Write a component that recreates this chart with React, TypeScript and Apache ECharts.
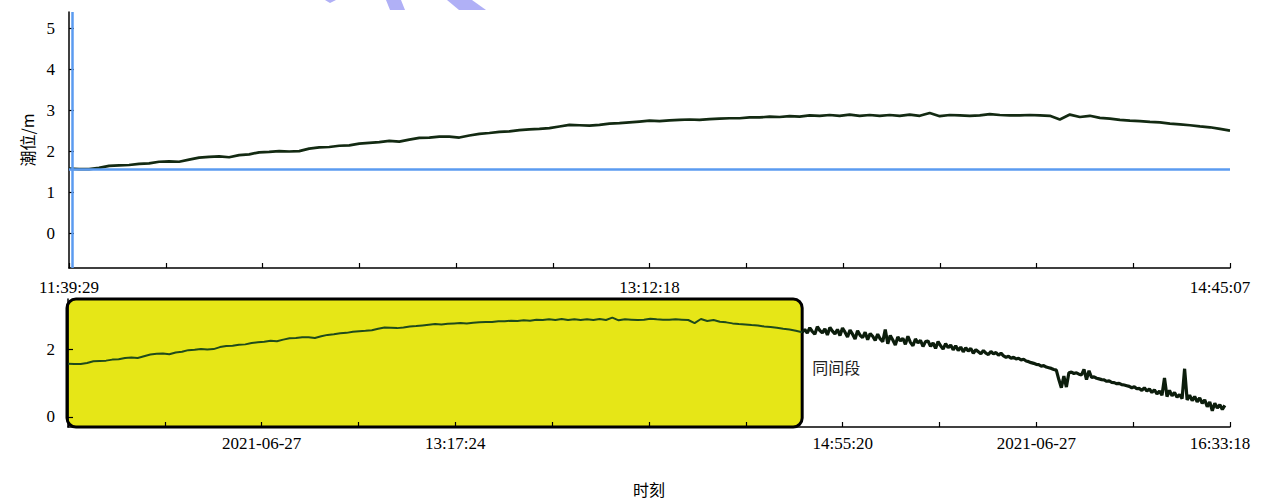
import React, { useEffect, useRef } from "react";
import * as echarts from "echarts";

// ---- data ----
const topTickLabels = ["11:39:29", "", "", "", "", "", "13:12:18", "", "", "", "", "", "14:45:07"];
const bottomTickLabels = ["", "", "2021-06-27", "", "13:17:24", "", "", "", "14:55:20", "", "2021-06-27", "", "16:33:18"];
const topYTicks = [0, 1, 2, 3, 4, 5];
const bottomYTicks = [0, 2];

const topStart = "11:39:29";
const topEnd = "14:45:07";
const bottomStart = "11:39:28";
const bottomEnd = "16:33:18";
const laterEnd = "16:32:00";

// tide level (m), evenly spaced in time from topStart to topEnd
const topLevel = [
  1.57, 1.56, 1.56, 1.59, 1.64, 1.65, 1.66, 1.69, 1.70, 1.74,
  1.75, 1.74, 1.79, 1.84, 1.86, 1.87, 1.85, 1.90, 1.92, 1.97,
  1.98, 2.00, 1.99, 2.00, 2.06, 2.09, 2.10, 2.13, 2.14, 2.18,
  2.20, 2.22, 2.25, 2.23, 2.28, 2.32, 2.33, 2.35, 2.35, 2.33,
  2.38, 2.42, 2.44, 2.47, 2.48, 2.51, 2.53, 2.54, 2.56, 2.60,
  2.64, 2.63, 2.62, 2.64, 2.67, 2.68, 2.70, 2.72, 2.74, 2.73,
  2.75, 2.76, 2.77, 2.76, 2.78, 2.79, 2.80, 2.80, 2.82, 2.82,
  2.84, 2.83, 2.85, 2.84, 2.87, 2.86, 2.88, 2.86, 2.89, 2.86,
  2.88, 2.86, 2.88, 2.86, 2.89, 2.86, 2.93, 2.85, 2.88, 2.87,
  2.86, 2.87, 2.90, 2.88, 2.87, 2.87, 2.88, 2.87, 2.86, 2.77,
  2.89, 2.83, 2.86, 2.81, 2.79, 2.76, 2.74, 2.73, 2.71, 2.70,
  2.67, 2.65, 2.63, 2.60, 2.58, 2.54, 2.50,
];

// tide level (m) after topEnd, evenly spaced in time up to laterEnd
const laterLevel = [
  2.50, 2.58, 2.47, 2.63, 2.52, 2.44, 2.66, 2.55, 2.48, 2.60,
  2.42, 2.64, 2.53, 2.45, 2.58, 2.40, 2.62, 2.50, 2.36, 2.56,
  2.44, 2.30, 2.54, 2.41, 2.34, 2.50, 2.28, 2.46, 2.38, 2.26,
  2.44, 2.30, 2.22, 2.58, 2.16, 2.40, 2.27, 2.12, 2.36, 2.24,
  2.32, 2.14, 2.38, 2.20, 2.10, 2.30, 2.18, 2.26, 2.08, 2.22,
  2.24, 2.08, 2.18, 2.02, 2.22, 2.10, 2.00, 2.16, 2.04, 2.12,
  1.98, 2.10, 1.96, 2.06, 1.92, 2.04, 1.94, 2.02, 1.88, 1.98,
  1.92, 1.86, 1.96, 1.88, 1.84, 1.93, 1.86, 1.90, 1.82, 1.88,
  1.80, 1.76, 1.79, 1.73, 1.76, 1.71, 1.73, 1.68, 1.70, 1.65,
  1.63, 1.60, 1.58, 1.55, 1.54, 1.50, 1.51, 1.47, 1.45, 1.43,
  1.40, 1.38, 1.10, 0.86, 1.20, 0.88, 1.30, 1.32, 1.28, 1.30,
  1.26, 1.24, 1.40, 1.10, 1.36, 1.16, 1.18, 1.14, 1.12, 1.10,
  1.09, 1.05, 1.06, 1.02, 1.01, 0.98, 0.99, 0.95, 0.94, 0.92,
  0.90, 0.86, 0.89, 0.83, 0.84, 0.78, 0.86, 0.76, 0.82, 0.72,
  0.80, 0.68, 0.76, 0.64, 1.15, 0.60, 0.78, 0.62, 0.72, 0.58,
  0.66, 0.54, 1.42, 0.50, 0.64, 0.48, 0.60, 0.44, 0.56, 0.40,
  0.50, 0.30, 0.44, 0.18, 0.40, 0.26, 0.36, 0.22, 0.34,
];

const datumLevel = 1.55;
const topYRange = [-0.85, 5.39];
const bottomYRange = [-0.3, 3.48];
const noteText = "同间段";
const noteLevel = 1.47;

// ---- helpers ----
const toSec = (s: string) => {
  const [h, m, x] = s.split(":").map(Number);
  return h * 3600 + m * 60 + x;
};

const SERIF = "Liberation Serif, Times New Roman, serif";
const CJK = "Noto Sans CJK SC, sans-serif";

export default function App() {
  const ref = useRef<HTMLDivElement>(null);

  useEffect(() => {
    if (!ref.current) return;
    const chart = echarts.init(ref.current, undefined, { renderer: "svg" });

    const topSpan = toSec(topEnd) - toSec(topStart);
    const topUnit = topSpan / 12;
    const botSpan = toSec(bottomEnd) - toSec(bottomStart);
    const botUnit = botSpan / 12;
    const offset = toSec(topStart) - toSec(bottomStart);

    const topData = topLevel.map((v, i) => [((i / (topLevel.length - 1)) * topSpan) / topUnit, v]);
    const earlyData = topLevel.map((v, i) => [((i / (topLevel.length - 1)) * topSpan + offset) / botUnit, v]);
    const lStart = toSec(topEnd) - toSec(bottomStart) + 1;
    const lEnd = toSec(laterEnd) - toSec(bottomStart);
    const laterData = laterLevel.map((v, j) => [(lStart + (j / (laterLevel.length - 1)) * (lEnd - lStart)) / botUnit, v]);
    const boxEndUnit = (toSec(topEnd) - toSec(bottomStart)) / botUnit;

    const mkLabel = (labels: string[]) => ({
      fontFamily: SERIF,
      fontSize: 17,
      color: "#000",
      showMinLabel: true,
      showMaxLabel: true,
      formatter: (v: number) => {
        const i = Math.round(v);
        const t = labels[i] || "";
        if (!t) return "";
        return i === 12 ? "{r|" + t + "}" : t;
      },
      rich: { r: { fontFamily: SERIF, fontSize: 17, color: "#000", padding: [0, 20, 0, 0] } },
    });

    const xBase = {
      type: "value" as const,
      min: 0,
      max: 12,
      interval: 1,
      splitLine: { show: false },
      axisLine: { show: true, onZero: false, lineStyle: { color: "#000", width: 1.5 } },
      axisTick: { show: true, inside: true, length: 5, lineStyle: { color: "#000", width: 1.2 } },
    };

    const yBase = {
      type: "value" as const,
      splitLine: { show: false },
      axisLine: { show: true, onZero: false, lineStyle: { color: "#000", width: 1.5 } },
      axisTick: { show: true, inside: true, length: 5, lineStyle: { color: "#000", width: 1.2 } },
    };

    chart.setOption({
      animation: false,
      backgroundColor: "#fff",
      grid: [
        { left: 69, top: 12, width: 1161, height: 256 },
        { left: 68, top: 299, width: 1162, height: 128 },
      ],
      xAxis: [
        { ...xBase, gridIndex: 0, axisLabel: { ...mkLabel(topTickLabels), margin: 11 } },
        {
          ...xBase,
          gridIndex: 1,
          axisLabel: { ...mkLabel(bottomTickLabels), margin: 8 },
          name: "时刻",
          nameLocation: "middle",
          nameGap: 54,
          nameTextStyle: { fontFamily: CJK, fontSize: 16, color: "#000" },
        },
      ],
      yAxis: [
        {
          ...yBase,
          gridIndex: 0,
          min: topYRange[0],
          max: topYRange[1],
          axisLabel: { customValues: topYTicks, fontFamily: SERIF, fontSize: 17, color: "#000", margin: 14 },
          axisTick: { ...yBase.axisTick, customValues: topYTicks },
          name: "潮位/m",
          nameLocation: "middle",
          nameGap: 34,
          nameTextStyle: { fontFamily: CJK, fontSize: 16, color: "#000" },
        },
        {
          ...yBase,
          gridIndex: 1,
          min: bottomYRange[0],
          max: bottomYRange[1],
          axisLabel: { customValues: bottomYTicks, fontFamily: SERIF, fontSize: 17, color: "#000", margin: 13 },
          axisTick: { ...yBase.axisTick, customValues: bottomYTicks },
        },
      ],
      series: [
        {
          type: "line",
          xAxisIndex: 0,
          yAxisIndex: 0,
          data: topData,
          showSymbol: false,
          lineStyle: { color: "#132a12", width: 2.7 },
          markLine: {
            silent: true,
            symbol: "none",
            label: { show: false },
            lineStyle: { color: "#5b9bf0", width: 2.5, type: "solid" },
            data: [{ yAxis: datumLevel }, { xAxis: 0.03 }],
          },
          z: 3,
        },
        {
          type: "line",
          xAxisIndex: 1,
          yAxisIndex: 1,
          data: earlyData,
          showSymbol: false,
          lineStyle: { color: "#1f4a1c", width: 2 },
          z: 3,
        },
        {
          type: "line",
          xAxisIndex: 1,
          yAxisIndex: 1,
          data: laterData,
          showSymbol: false,
          lineStyle: { color: "#0c1d0c", width: 3.2 },
          z: 3,
        },
      ],
    });

    const p0 = chart.convertToPixel({ gridIndex: 1 }, [0, bottomYRange[1]]) as number[];
    const p1 = chart.convertToPixel({ gridIndex: 1 }, [boxEndUnit, bottomYRange[0]]) as number[];
    const pn = chart.convertToPixel({ gridIndex: 1 }, [boxEndUnit, noteLevel]) as number[];

    chart.setOption({
      graphic: [
        {
          type: "rect",
          z: -1,
          shape: { x: p0[0] - 1, y: p0[1], width: p1[0] - p0[0] + 1, height: p1[1] - p0[1], r: 9 },
          style: { fill: "#e6e617", stroke: "#000", lineWidth: 3 },
        },
        {
          type: "text",
          z: 5,
          x: pn[0] + 10,
          y: pn[1],
          style: { text: noteText, fontFamily: CJK, fontSize: 16, fill: "#222", verticalAlign: "middle" },
        },
        { type: "polygon", z: 5, shape: { points: [[325, 0], [336, 0], [330, 3]] }, style: { fill: "#b0b0f6" } },
        { type: "polygon", z: 5, shape: { points: [[386, 0], [401, 0], [405, 10], [390, 10]] }, style: { fill: "#b0b0f6" } },
        { type: "polygon", z: 5, shape: { points: [[447, 0], [472, 0], [486, 10], [459, 10]] }, style: { fill: "#b0b0f6" } },
      ],
    });

    return () => chart.dispose();
  }, []);

  return (
    <div
      ref={ref}
      style={{ position: "fixed", left: 0, top: 0, width: 1264, height: 501, background: "#fff" }}
    />
  );
}
